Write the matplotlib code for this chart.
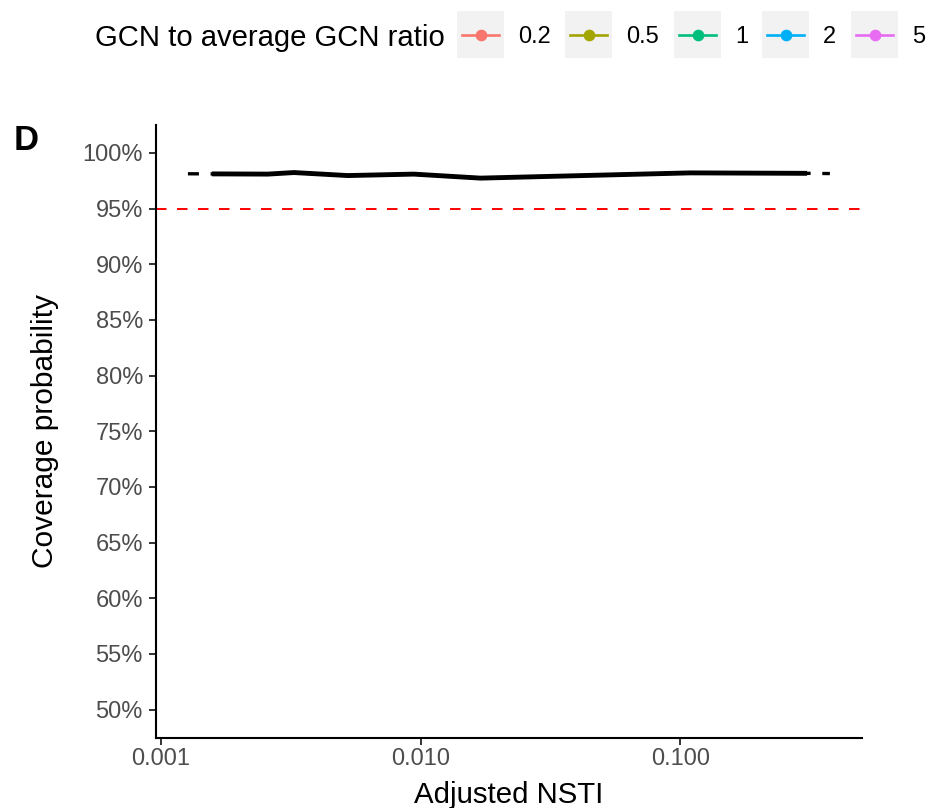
import matplotlib
matplotlib.use("Agg")
import matplotlib.pyplot as plt
from matplotlib.lines import Line2D
from matplotlib.patches import Rectangle
from matplotlib.ticker import FixedLocator, FixedFormatter, NullLocator

plt.rcParams['font.family'] = ['Liberation Sans', 'DejaVu Sans']

# ---- data ----
nsti_solid = [0.00157, 0.00258, 0.00325, 0.00524, 0.0094, 0.0170, 0.109, 0.308]
coverage_solid = [0.9811, 0.9809, 0.9823, 0.9796, 0.9809, 0.9773, 0.9820, 0.9816]
nsti_dashed = [0.00127, 0.00157, 0.00258, 0.00325, 0.00524, 0.0094, 0.0170, 0.109, 0.308, 0.377]
coverage_dashed = [0.9812, 0.9811, 0.9809, 0.9823, 0.9796, 0.9809, 0.9773, 0.9820, 0.9816, 0.9814]
target_coverage = 0.95

legend_title = "GCN to average GCN ratio"
ratio_labels = ["0.2", "0.5", "1", "2", "5"]
ratio_colors = ["#F8766D", "#A3A500", "#00BF7D", "#00B0F6", "#E76BF3"]

x_ticks = [0.001, 0.01, 0.1]
x_tick_labels = ["0.001", "0.010", "0.100"]
y_ticks = [0.50, 0.55, 0.60, 0.65, 0.70, 0.75, 0.80, 0.85, 0.90, 0.95, 1.00]
y_tick_labels = ["50%", "55%", "60%", "65%", "70%", "75%", "80%", "85%", "90%", "95%", "100%"]

# ---- figure ----
W, H = 930, 808
fig = plt.figure(figsize=(W / 100, H / 100), dpi=100)

def fx(px):
    return px / W

def fy(py):
    return 1 - py / H

ax_l, ax_r, ax_t, ax_b = 156, 862, 125, 737.5
ax = fig.add_axes([fx(ax_l), fy(ax_b), fx(ax_r) - fx(ax_l), fy(ax_t) - fy(ax_b)])
ax.set_xscale('log')
ax.set_xlim(10 ** -3.0192, 10 ** -0.30)
ax.set_ylim(0.475, 1.025)

ax.axhline(target_coverage, color='#FF0000', lw=1.4, dashes=(5.4, 5.4), zorder=2)
ax.plot(nsti_dashed, coverage_dashed, color='black', lw=2.4, dashes=(3.3, 3.5),
        solid_capstyle='butt', dash_capstyle='butt', zorder=3)
ax.plot(nsti_solid, coverage_solid, color='black', lw=3.5, solid_joinstyle='round',
        solid_capstyle='butt', zorder=4)

ax.xaxis.set_major_locator(FixedLocator(x_ticks))
ax.xaxis.set_major_formatter(FixedFormatter(x_tick_labels))
ax.xaxis.set_minor_locator(NullLocator())
ax.yaxis.set_major_locator(FixedLocator(y_ticks))
ax.yaxis.set_major_formatter(FixedFormatter(y_tick_labels))

for side in ['top', 'right']:
    ax.spines[side].set_visible(False)
for side in ['left', 'bottom']:
    ax.spines[side].set_linewidth(1.5)
    ax.spines[side].set_color('black')

ax.tick_params(axis='both', labelsize=17, labelcolor='#4D4D4D', color='#333333',
               length=5.2, width=1.4)
ax.tick_params(axis='x', pad=2.6)
ax.tick_params(axis='y', pad=4.2)

# axis titles
fig.text(fx((ax_l + ax_r) / 2), fy(802.7), "Adjusted NSTI", fontsize=21.2,
         ha='center', va='baseline')
fig.text(fx(53), fy((ax_t + ax_b) / 2), "Coverage probability", fontsize=21.5,
         rotation=90, rotation_mode='anchor', ha='center', va='baseline')

# panel tag
fig.text(fx(14), fy(150), "D", fontsize=25, fontweight='bold', ha='left', va='baseline')

# legend (top)
leg_cy = 34.5
fig.text(fx(95), fy(leg_cy), legend_title, fontsize=21.1, ha='left', va='center_baseline')
box_x = [457, 565, 674, 762, 851]
box_w = 47
for bx, lab, col in zip(box_x, ratio_labels, ratio_colors):
    fig.add_artist(Rectangle((fx(bx), fy(leg_cy + box_w / 2)), fx(box_w), box_w / H,
                             transform=fig.transFigure, facecolor='#F2F2F2',
                             edgecolor='none', zorder=1))
    fig.add_artist(Line2D([fx(bx + 5), fx(bx + 42)], [fy(leg_cy), fy(leg_cy)],
                          transform=fig.transFigure, color=col, lw=1.9, zorder=2))
    fig.add_artist(Line2D([fx(bx + 23.5)], [fy(leg_cy)], transform=fig.transFigure,
                          color=col, marker='o', markersize=7.4, linestyle='none', zorder=3))
    fig.text(fx(bx + 61), fy(leg_cy), lab, fontsize=17, ha='left', va='center_baseline')

fig.savefig("out.png", dpi=100)
